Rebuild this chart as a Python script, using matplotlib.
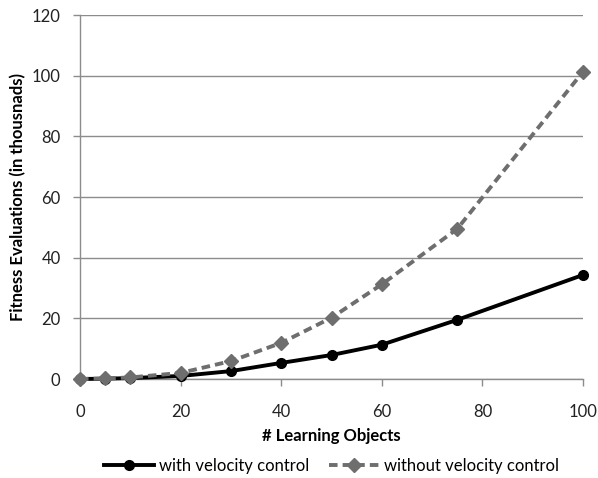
import matplotlib
matplotlib.use("Agg")
import matplotlib.pyplot as plt

x = [0, 5, 10, 20, 30, 40, 50, 60, 75, 100]
with_vc = [0, 0.1, 0.3, 1.0, 2.6, 5.3, 7.9, 11.3, 19.5, 34.3]
without_vc = [0, 0.2, 0.5, 2.0, 5.9, 11.9, 20.2, 31.2, 49.5, 101.3]
xticks = [0, 20, 40, 60, 80, 100]
yticks = [0, 20, 40, 60, 80, 100, 120]

plt.rcParams['font.family'] = ['Lato', 'DejaVu Sans']
fig = plt.figure(figsize=(5.98, 4.78), dpi=100)
ax = fig.add_axes([80/598, 1-379/478, (583-80)/598, (379-15)/478])

ax.plot(x, with_vc, color='black', lw=2.8, marker='o', ms=7, label='with velocity control',
        zorder=3, clip_on=False)
ax.plot(x, without_vc, color='#6e6e6e', lw=2.8, ls=(0, (2.2, 1.3)), marker='D', ms=7.5,
        label='without velocity control', zorder=4, clip_on=False)

ax.set_xlim(0, 100)
ax.set_ylim(0, 120)
ax.set_xticks(xticks)
ax.set_yticks(yticks)
ax.grid(axis='y', color='#8c8c8c', lw=1)
ax.set_axisbelow(True)
for s in ['top', 'right']:
    ax.spines[s].set_visible(False)
for s in ['left', 'bottom']:
    ax.spines[s].set_color('#8c8c8c')
    ax.spines[s].set_linewidth(1)
ax.tick_params(axis='both', colors='#8c8c8c', labelcolor='#222222', labelsize=12, length=5, width=1)
ax.tick_params(axis='x', pad=13)
ax.tick_params(axis='y', pad=9)
ax.set_xlabel('# Learning Objects', fontsize=12, fontweight='bold', labelpad=6)
ax.set_ylabel('Fitness Evaluations (in thousnads)', fontsize=12, fontweight='bold', labelpad=4)
ax.legend(loc='center', bbox_to_anchor=(0.5, -(466-379)/364), ncol=2, frameon=False, fontsize=12,
          handlelength=3.0, columnspacing=1.2, handletextpad=0.3)
fig.savefig('out.png', dpi=100)
